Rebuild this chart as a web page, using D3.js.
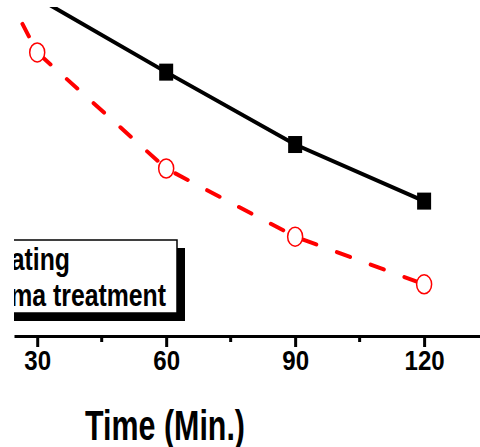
<!DOCTYPE html>
<html>
<head>
<meta charset="utf-8">
<script src="https://cdn.jsdelivr.net/npm/d3@7"></script>
<style>
  body { margin: 0; background: #fff; }
  svg { display: block; }
  text { font-family: Arial, "Liberation Sans", sans-serif; font-weight: bold; fill: #000; }
</style>
</head>
<body>
<div id="chart"></div>
<script>
var svgWidth = 480;
var svgHeight = 447;

// data (y in arbitrary %-like units)
var times = [15, 30, 60, 90, 120];
var heating = [null, 102.8, 80.2, 58.2, 41.0];
var plasma = [124.0, 86.2, 50.9, 30.2, 15.7];
var tickLabels = [30, 60, 90, 120];
var minorTicks = [45, 75, 105];
var legendLabels = ["Heating", "Plasma treatment"];

var svg = d3.select("#chart")
    .append("svg")
    .attr("width", svgWidth)
    .attr("height", svgHeight);

// the picture is cut on the left and top
var defs = svg.append("defs");
defs.append("clipPath").attr("id", "cut")
  .append("rect").attr("x", 14).attr("y", 0).attr("width", 466).attr("height", svgHeight);
defs.append("clipPath").attr("id", "plotcut")
  .append("rect").attr("x", 14).attr("y", 7).attr("width", 466).attr("height", 329);

var root = svg.append("g").attr("clip-path", "url(#cut)");

var x = d3.scaleLinear().domain([24.6, 133]).range([14, 480]);
var y = d3.scaleLinear().domain([0, 100]).range([336, 7]);

// axis
var xAxis = d3.axisBottom(x)
    .tickValues(tickLabels)
    .tickSize(11)
    .tickSizeOuter(0)
    .tickFormat(d3.format("d"));

var axisG = root.append("g")
    .attr("transform", "translate(0,336)")
    .call(xAxis);
axisG.select(".domain").attr("stroke", "#000").attr("stroke-width", 3);
axisG.selectAll(".tick line").attr("stroke", "#000").attr("stroke-width", 3);
axisG.selectAll(".tick text")
    .attr("y", 34)
    .attr("dy", 0)
    .attr("transform", "scale(0.86,1)")
    .style("font-size", "28px")
    .style("font-family", "Arial, 'Liberation Sans', sans-serif")
    .style("font-weight", "bold")
    .attr("fill", "#000");

axisG.selectAll(".minor")
    .data(minorTicks)
    .enter()
    .append("line")
    .attr("x1", d => x(d)).attr("x2", d => x(d))
    .attr("y1", 0).attr("y2", 6)
    .attr("stroke", "#000")
    .attr("stroke-width", 3);

root.append("text")
    .attr("x", 85)
    .attr("y", 440)
    .attr("textLength", 160)
    .attr("lengthAdjust", "spacingAndGlyphs")
    .style("font-size", "43px")
    .text("Time (Min.)");

// series
var plot = root.append("g").attr("clip-path", "url(#plotcut)");

var heatPts = times.map((t, i) => ({t: t, v: heating[i]})).filter(d => d.v != null);
var plasPts = times.map((t, i) => ({t: t, v: plasma[i]}));

var line = d3.line().x(d => x(d.t)).y(d => y(d.v));

plot.append("path")
    .datum(heatPts)
    .attr("d", line)
    .attr("fill", "none")
    .attr("stroke", "#000")
    .attr("stroke-width", 4);

plot.append("path")
    .datum(plasPts)
    .attr("d", line)
    .attr("fill", "none")
    .attr("stroke", "#ff0000")
    .attr("stroke-width", 4)
    .attr("stroke-linecap", "round")
    .attr("stroke-dasharray", "14,22");

plot.selectAll(".sq")
    .data(heatPts)
    .enter()
    .append("rect")
    .attr("x", d => x(d.t) - 7)
    .attr("y", d => y(d.v) - 8.5)
    .attr("width", 14)
    .attr("height", 17)
    .attr("fill", "#000");

plot.selectAll(".circ")
    .data(plasPts)
    .enter()
    .append("ellipse")
    .attr("cx", d => x(d.t))
    .attr("cy", d => y(d.v))
    .attr("rx", 7.5)
    .attr("ry", 9.5)
    .attr("fill", "#fff")
    .attr("stroke", "#ff0000")
    .attr("stroke-width", 1.5);

// legend (left part is cut off in the picture)
var legend = root.append("g");
legend.append("rect")
    .attr("x", -52).attr("y", 248)
    .attr("width", 237).attr("height", 73)
    .attr("fill", "#000");
legend.append("rect")
    .attr("x", -60).attr("y", 240)
    .attr("width", 237).attr("height", 73)
    .attr("fill", "#fff")
    .attr("stroke", "#000")
    .attr("stroke-width", 1.5);

legend.selectAll(".lab")
    .data(legendLabels)
    .enter()
    .append("text")
    .attr("text-anchor", "end")
    .attr("transform", (d, i) => "translate(" + (i === 0 ? 70 : 166) + "," + (270 + i * 36) + ") scale(0.8,1)")
    .style("font-size", "31px")
    .text(d => d);
</script>
</body>
</html>
